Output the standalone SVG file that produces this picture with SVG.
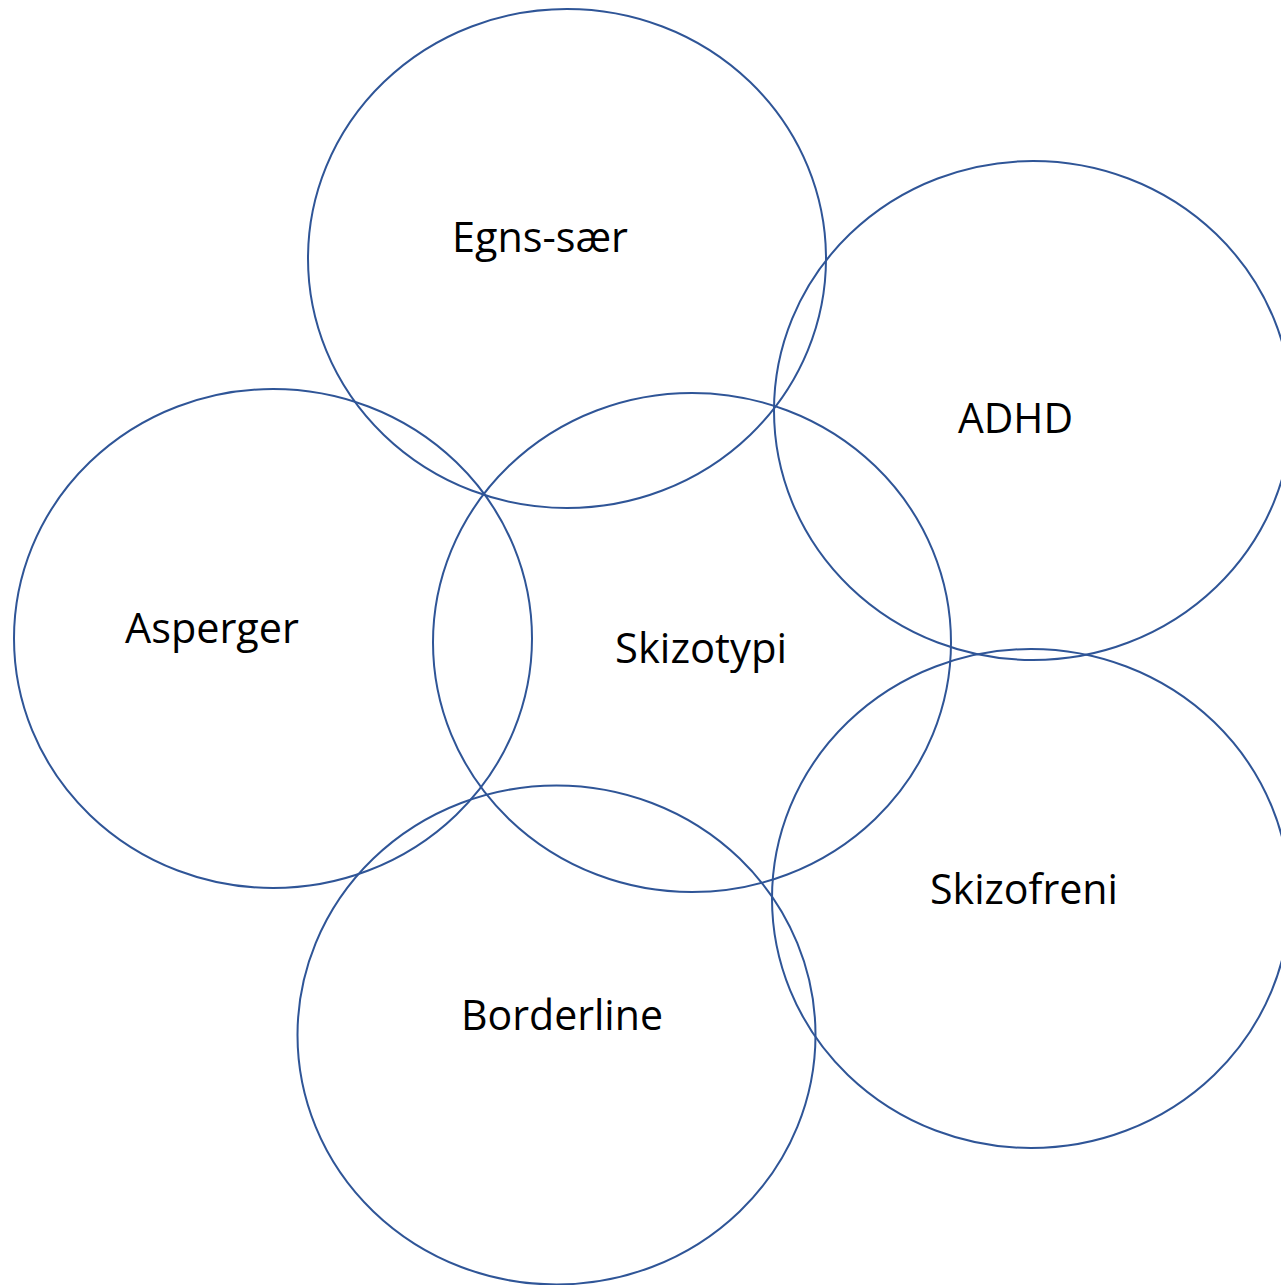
<svg xmlns="http://www.w3.org/2000/svg" width="1281" height="1285" viewBox="0 0 1281 1285">
<style>
.c{fill:none;stroke:#2F5597;stroke-width:2}
.t{font-family:"Open Sans","Liberation Sans",sans-serif;font-size:42px;fill:#000}
</style>
<rect width="1281" height="1285" fill="#fff"/>
<g id="egns-saer"><ellipse class="c" cx="567" cy="258.5" rx="259" ry="249.5"/><text class="t" x="452" y="252" textLength="176" lengthAdjust="spacingAndGlyphs">Egns-sær</text></g>
<g id="adhd"><ellipse class="c" cx="1033" cy="410.5" rx="259" ry="249.5"/><text class="t" x="958" y="433" textLength="115" lengthAdjust="spacingAndGlyphs">ADHD</text></g>
<g id="asperger"><ellipse class="c" cx="273" cy="638.5" rx="259" ry="249.5"/><text class="t" x="125" y="643" textLength="174" lengthAdjust="spacingAndGlyphs">Asperger</text></g>
<g id="skizotypi"><ellipse class="c" cx="692" cy="642.5" rx="259" ry="249.5"/><text class="t" x="615" y="663" textLength="172" lengthAdjust="spacingAndGlyphs">Skizotypi</text></g>
<g id="skizofreni"><ellipse class="c" cx="1031" cy="898.5" rx="259" ry="249.5"/><text class="t" x="930" y="904" textLength="188" lengthAdjust="spacingAndGlyphs">Skizofreni</text></g>
<g id="borderline"><ellipse class="c" cx="556.5" cy="1035" rx="259" ry="249.5"/><text class="t" x="461" y="1030" textLength="202" lengthAdjust="spacingAndGlyphs">Borderline</text></g>
<g id="connectors"/>
</svg>
